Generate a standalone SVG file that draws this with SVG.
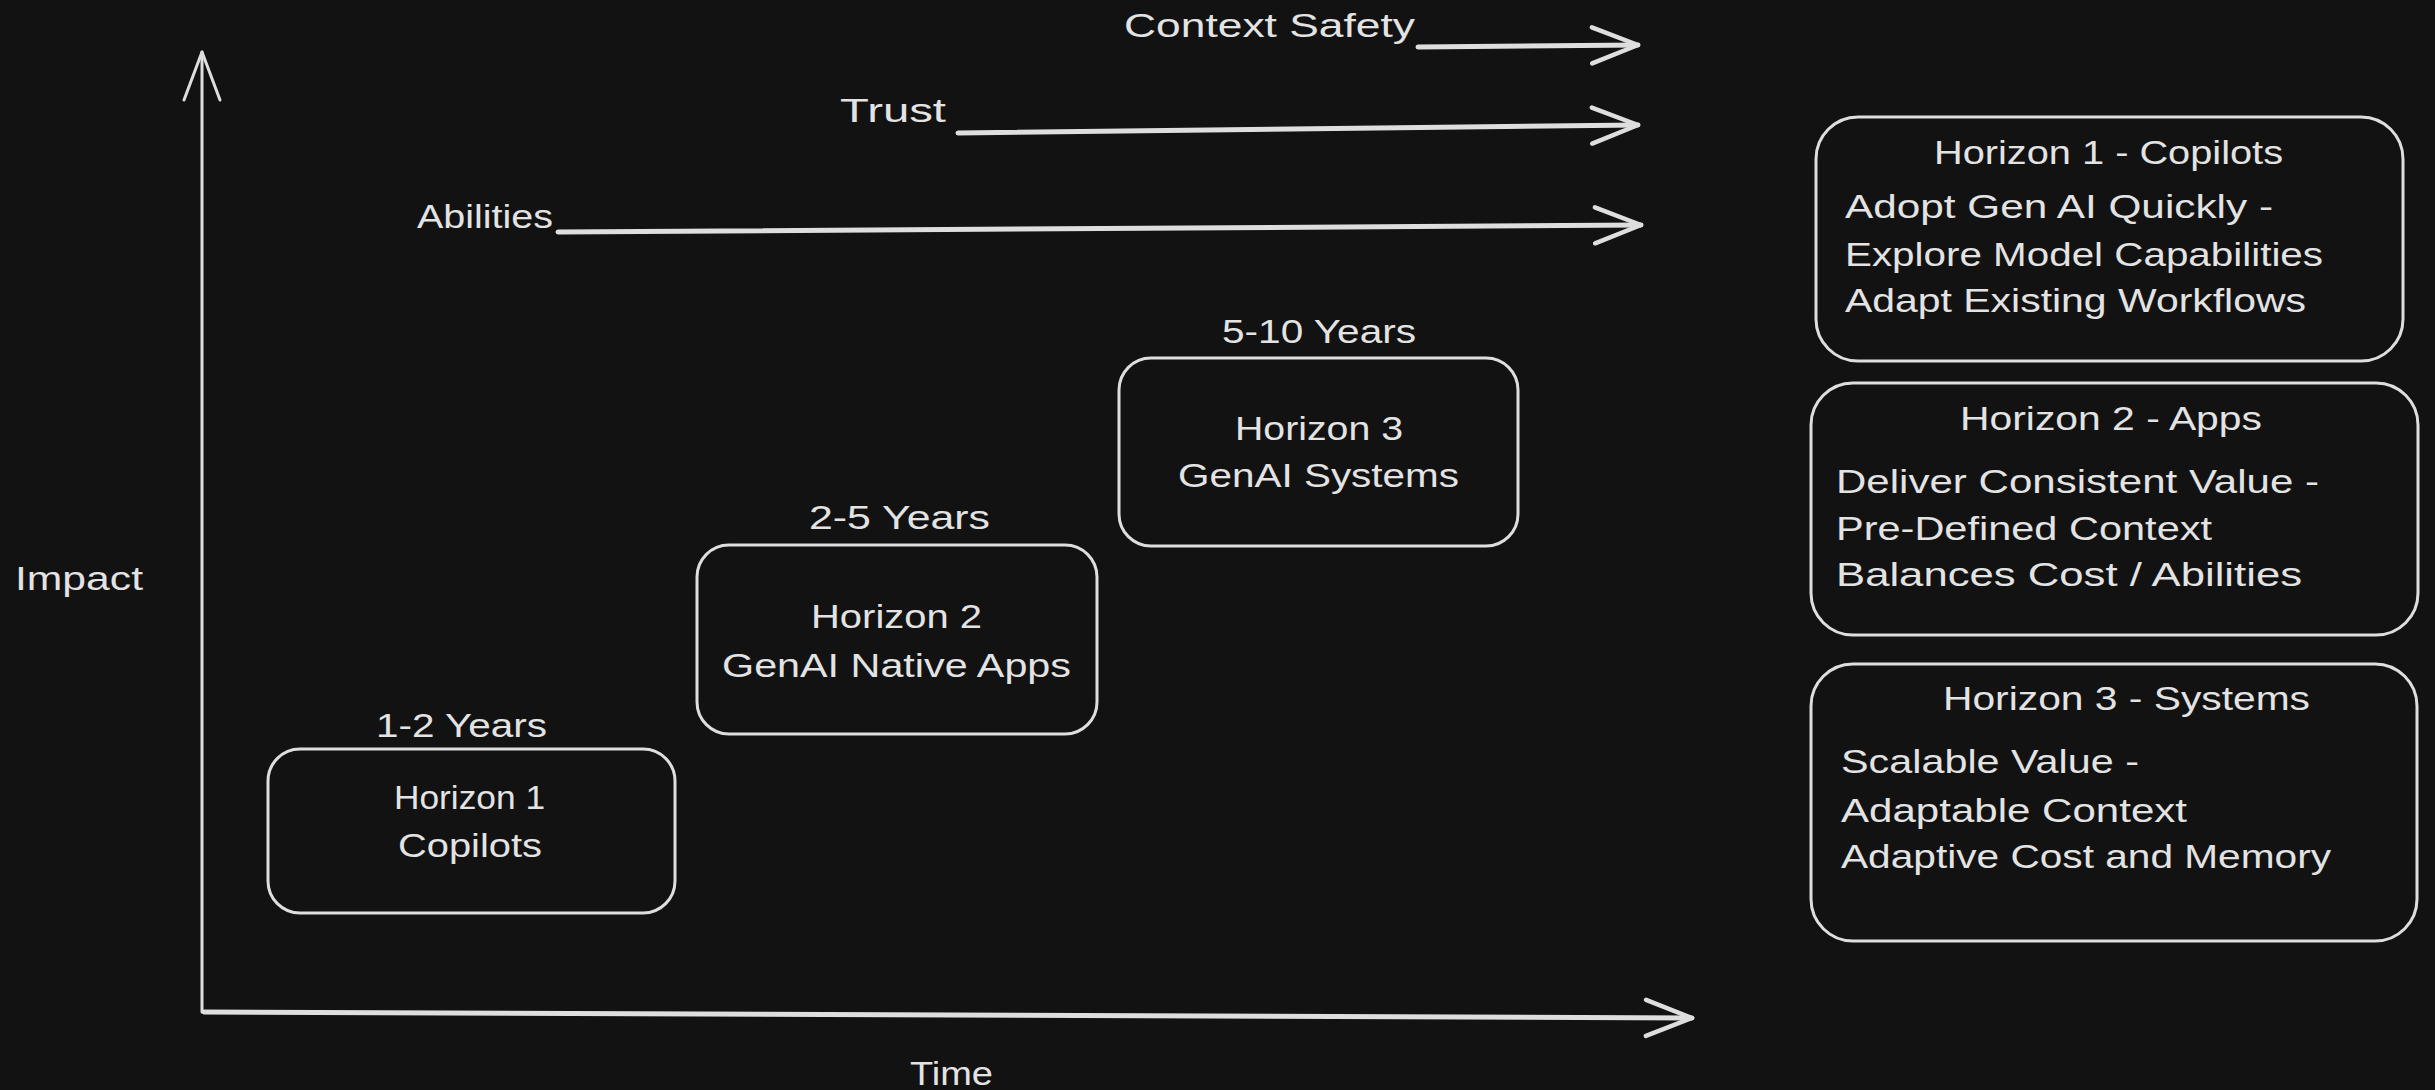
<svg xmlns="http://www.w3.org/2000/svg" width="2435" height="1090" viewBox="0 0 2435 1090">
  <style>
    .bg { fill: #121212; }
    .box { fill: none; stroke: #dedede; stroke-width: 3; }
    .t { font-family: "Liberation Sans", "Open Sans", sans-serif; font-size: 34px; fill: #e3e3e3; }
    .c { text-anchor: middle; }
    .ax { fill: none; stroke: #dedede; stroke-linecap: round; }
    .thin { stroke-width: 3; }
    .thick { stroke-width: 5; }
  </style>
  <defs>
    <marker id="ah-thin" markerUnits="userSpaceOnUse" markerWidth="60" markerHeight="44" refX="50" refY="22" orient="auto" overflow="visible">
      <path d="M2,4 L50,22 L2,40" fill="none" stroke="#dedede" stroke-width="3" stroke-linecap="round" stroke-linejoin="round"/>
    </marker>
    <marker id="ah-thick" markerUnits="userSpaceOnUse" markerWidth="60" markerHeight="44" refX="48" refY="22" orient="auto" overflow="visible">
      <path d="M2,4 L48,22 L2,40" fill="none" stroke="#dedede" stroke-width="4.5" stroke-linecap="round" stroke-linejoin="round"/>
    </marker>
  </defs>
  <rect class="bg" x="0" y="0" width="2435" height="1090"/>

  <g id="connectors">
    <path class="ax thin" d="M202,1012 L202,52" marker-end="url(#ah-thin)"/>
    <path class="ax thick" d="M204,1012 L1692,1018" marker-end="url(#ah-thick)"/>
    <path class="ax thick" d="M1418,47 L1638,45" marker-end="url(#ah-thick)"/>
    <path class="ax thick" d="M958,133 L1638,125" marker-end="url(#ah-thick)"/>
    <path class="ax thick" d="M558,232 L1641,225" marker-end="url(#ah-thick)"/>
  </g>

  <g id="axis-labels">
    <text class="t" x="15" y="590" textLength="128" lengthAdjust="spacingAndGlyphs">Impact</text>
    <text class="t" x="910" y="1085" textLength="83" lengthAdjust="spacingAndGlyphs">Time</text>
    <text class="t" x="1124" y="37" textLength="291" lengthAdjust="spacingAndGlyphs">Context Safety</text>
    <text class="t" x="840" y="122" textLength="106" lengthAdjust="spacingAndGlyphs">Trust</text>
    <text class="t" x="417" y="228" textLength="136" lengthAdjust="spacingAndGlyphs">Abilities</text>
  </g>

  <g id="horizon1">
    <text class="t" x="376" y="737" textLength="171" lengthAdjust="spacingAndGlyphs">1-2 Years</text>
    <rect class="box" x="268" y="749" width="407" height="164" rx="32"/>
    <text class="t" x="394" y="809" textLength="151" lengthAdjust="spacingAndGlyphs">Horizon 1</text>
    <text class="t" x="398" y="857" textLength="144" lengthAdjust="spacingAndGlyphs">Copilots</text>
  </g>

  <g id="horizon2">
    <text class="t" x="809" y="529" textLength="181" lengthAdjust="spacingAndGlyphs">2-5 Years</text>
    <rect class="box" x="697" y="545" width="400" height="189" rx="32"/>
    <text class="t" x="811" y="628" textLength="171" lengthAdjust="spacingAndGlyphs">Horizon 2</text>
    <text class="t" x="722" y="677" textLength="349" lengthAdjust="spacingAndGlyphs">GenAI Native Apps</text>
  </g>

  <g id="horizon3">
    <text class="t" x="1222" y="343" textLength="194" lengthAdjust="spacingAndGlyphs">5-10 Years</text>
    <rect class="box" x="1119" y="358" width="399" height="188" rx="32"/>
    <text class="t" x="1235" y="440" textLength="168" lengthAdjust="spacingAndGlyphs">Horizon 3</text>
    <text class="t" x="1178" y="487" textLength="281" lengthAdjust="spacingAndGlyphs">GenAI Systems</text>
  </g>

  <g id="summary1">
    <rect class="box" x="1816" y="117" width="587" height="244" rx="42"/>
    <text class="t" x="1934" y="164" textLength="349" lengthAdjust="spacingAndGlyphs">Horizon 1 - Copilots</text>
    <text class="t" x="1845" y="218" textLength="428" lengthAdjust="spacingAndGlyphs">Adopt Gen AI Quickly -</text>
    <text class="t" x="1845" y="266" textLength="478" lengthAdjust="spacingAndGlyphs">Explore Model Capabilities</text>
    <text class="t" x="1845" y="312" textLength="461" lengthAdjust="spacingAndGlyphs">Adapt Existing Workflows</text>
  </g>

  <g id="summary2">
    <rect class="box" x="1811" y="383" width="607" height="252" rx="42"/>
    <text class="t" x="1960" y="430" textLength="302" lengthAdjust="spacingAndGlyphs">Horizon 2 - Apps</text>
    <text class="t" x="1836" y="493" textLength="483" lengthAdjust="spacingAndGlyphs">Deliver Consistent Value -</text>
    <text class="t" x="1836" y="540" textLength="376" lengthAdjust="spacingAndGlyphs">Pre-Defined Context</text>
    <text class="t" x="1836" y="586" textLength="466" lengthAdjust="spacingAndGlyphs">Balances Cost / Abilities</text>
  </g>

  <g id="summary3">
    <rect class="box" x="1811" y="664" width="606" height="277" rx="42"/>
    <text class="t" x="1943" y="710" textLength="367" lengthAdjust="spacingAndGlyphs">Horizon 3 - Systems</text>
    <text class="t" x="1841" y="773" textLength="298" lengthAdjust="spacingAndGlyphs">Scalable Value -</text>
    <text class="t" x="1841" y="822" textLength="346" lengthAdjust="spacingAndGlyphs">Adaptable Context</text>
    <text class="t" x="1841" y="868" textLength="490" lengthAdjust="spacingAndGlyphs">Adaptive Cost and Memory</text>
  </g>
</svg>
